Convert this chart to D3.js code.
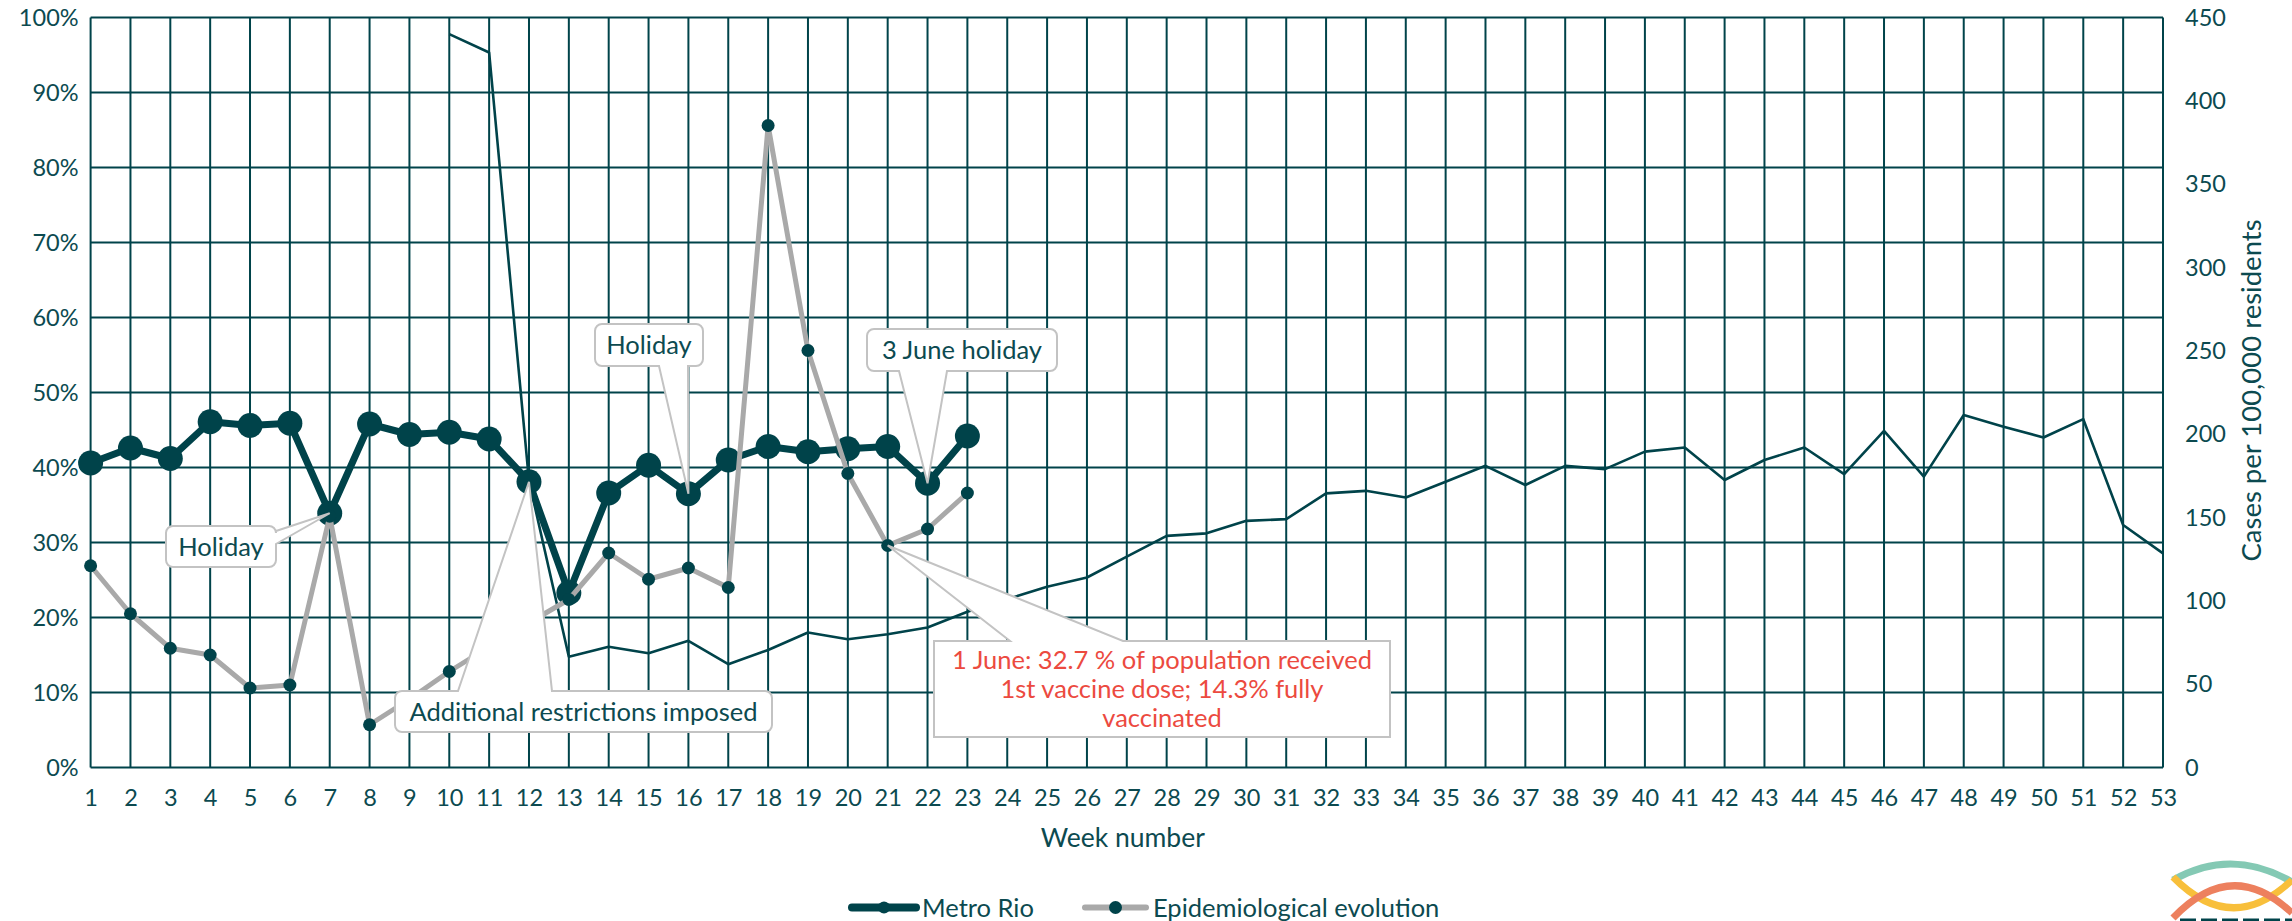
<!DOCTYPE html>
<html>
<head>
<meta charset="utf-8">
<script src="https://cdn.jsdelivr.net/npm/d3@7"></script>
<style>
  html, body { margin: 0; padding: 0; background: #ffffff; }
  svg { display: block; }
  text { font-family: "Lato", "DejaVu Sans", sans-serif; }
</style>
</head>
<body>
<svg id="chart" width="2292" height="921"></svg>
<script>
// ---------------- DATA ----------------
const weeks = d3.range(1, 54);                       // week numbers 1..53
const leftTicks = [0, 0.1, 0.2, 0.3, 0.4, 0.5, 0.6, 0.7, 0.8, 0.9, 1.0];
const rightTicks = [0, 50, 100, 150, 200, 250, 300, 350, 400, 450];

// Metro Rio (% , left axis), weeks 1..23
const metroRio = [40.6, 42.6, 41.2, 46.1, 45.6, 45.9, 33.9, 45.8, 44.4, 44.7, 43.8, 38.1,
                  23.3, 36.6, 40.3, 36.5, 41.0, 42.8, 42.1, 42.5, 42.8, 37.9, 44.2];
// Epidemiological evolution (% , left axis), weeks 1..23
const epiEvolution = [26.9, 20.5, 15.9, 15.0, 10.6, 11.0, 33.5, 5.7, 9.1, 12.8, 16.1, 19.3,
                      22.4, 28.6, 25.1, 26.6, 24.0, 85.6, 55.6, 39.2, 29.6, 31.8, 36.6];
// Cases per 100,000 residents (right axis), weeks 10..53
const casesStartWeek = 10;
const casesPer100k = [440, 429, 172, 66.5, 72.5, 68.5, 76, 62, 70.5, 81, 77, 80, 84, 93.5,
                      101, 108.5, 114, 126.5, 139, 140.5, 148, 149, 164.5, 166, 162, 171.5,
                      181, 169.5, 181, 179, 189.5, 192, 172.5, 184.5, 192, 176, 202, 174.5,
                      211.5, 204.5, 198, 209, 145.5, 128.5];

const seriesNames = ["Metro Rio", "Epidemiological evolution"];
const vaccineNote = ["1 June: 32.7 % of population received", "1st vaccine dose; 14.3% fully", "vaccinated"];

// ---------------- STYLE / LAYOUT ----------------
const C_DARK = "#00434a";
const C_TEXT = "#0c4a50";
const C_GRAY = "#a9a9a9";
const C_BORDER = "#c3c3c3";
const C_RED = "#ec4a3f";

const svg = d3.select("#chart");
const x = d3.scaleLinear().domain([1, 53]).range([90.6, 2163]);
const yL = d3.scaleLinear().domain([0, 1]).range([767.5, 17.5]);
const yR = d3.scaleLinear().domain([0, 450]).range([767.5, 17.5]);

const metroPts = metroRio.map((v, i) => ({ w: i + 1, v: v / 100 }));
const epiPts = epiEvolution.map((v, i) => ({ w: i + 1, v: v / 100 }));
const casesPts = casesPer100k.map((v, i) => ({ w: casesStartWeek + i, v }));

// ---------------- GRID ----------------
const grid = svg.append("g").attr("class", "grid");
grid.selectAll("line.h").data(leftTicks).join("line")
  .attr("x1", x(1)).attr("x2", x(53))
  .attr("y1", d => yL(d)).attr("y2", d => yL(d))
  .attr("stroke", C_DARK).attr("stroke-width", 2);
grid.selectAll("line.v").data(weeks).join("line")
  .attr("x1", d => x(d)).attr("x2", d => x(d))
  .attr("y1", yL(0)).attr("y2", yL(1))
  .attr("stroke", C_DARK).attr("stroke-width", 2);

// ---------------- AXES ----------------
const fs = 23.5;
const axL = svg.append("g").attr("transform", `translate(${x(1)},0)`)
  .call(d3.axisLeft(yL).tickValues(leftTicks).tickFormat(d3.format(".0%")).tickSize(0).tickPadding(12));
const axR = svg.append("g").attr("transform", `translate(${x(53)},0)`)
  .call(d3.axisRight(yR).tickValues(rightTicks).tickSize(0).tickPadding(22));
const axB = svg.append("g").attr("transform", `translate(0,${yL(0)})`)
  .call(d3.axisBottom(x).tickValues(weeks).tickFormat(d3.format("d")).tickSize(0).tickPadding(22));
[axL, axR, axB].forEach(a => {
  a.select(".domain").remove();
  a.selectAll("text").attr("fill", C_TEXT).style("font-size", fs + "px").style("font-family", "Lato");
});

svg.append("text").text("Week number")
  .attr("x", (x(1) + x(53)) / 2 - 4).attr("y", 847)
  .attr("text-anchor", "middle").attr("fill", C_TEXT).style("font-size", "26.5px");
svg.append("text").text("Cases per 100,000 residents")
  .attr("transform", `translate(2261,${(yR(0) + yR(450)) / 2 - 2}) rotate(-90)`)
  .attr("text-anchor", "middle").attr("fill", C_TEXT).style("font-size", "27.5px");

// ---------------- SERIES ----------------
const lineCases = d3.line().x(d => x(d.w)).y(d => yR(d.v));
svg.append("path").datum(casesPts).attr("d", lineCases)
  .attr("fill", "none").attr("stroke", C_DARK).attr("stroke-width", 2.6).attr("stroke-linejoin", "round");

const lineL = d3.line().x(d => x(d.w)).y(d => yL(d.v));
svg.append("path").datum(metroPts).attr("d", lineL)
  .attr("fill", "none").attr("stroke", C_DARK).attr("stroke-width", 7).attr("stroke-linejoin", "round");
svg.append("g").selectAll("circle").data(metroPts).join("circle")
  .attr("cx", d => x(d.w)).attr("cy", d => yL(d.v)).attr("r", 12.5).attr("fill", C_DARK);

svg.append("path").datum(epiPts).attr("d", lineL)
  .attr("fill", "none").attr("stroke", C_GRAY).attr("stroke-width", 5).attr("stroke-linejoin", "round");
svg.append("g").selectAll("circle").data(epiPts).join("circle")
  .attr("cx", d => x(d.w)).attr("cy", d => yL(d.v)).attr("r", 6.5).attr("fill", C_DARK);

// ---------------- CALLOUTS ----------------
function calloutPath(b, r, side, base, tip) {
  const [x0, y0, x1, y1] = b;
  const p = d3.path();
  p.moveTo(x0 + r, y0);
  if (side === "top") { p.lineTo(base[0], y0); p.lineTo(tip[0], tip[1]); p.lineTo(base[1], y0); }
  p.lineTo(x1 - r, y0);
  if (r) p.arcTo(x1, y0, x1, y0 + r, r);
  if (side === "right") { p.lineTo(x1, base[0]); p.lineTo(tip[0], tip[1]); p.lineTo(x1, base[1]); }
  p.lineTo(x1, y1 - r);
  if (r) p.arcTo(x1, y1, x1 - r, y1, r);
  if (side === "bottom") { p.lineTo(base[1], y1); p.lineTo(tip[0], tip[1]); p.lineTo(base[0], y1); }
  p.lineTo(x0 + r, y1);
  if (r) p.arcTo(x0, y1, x0, y1 - r, r);
  p.lineTo(x0, y0 + r);
  if (r) p.arcTo(x0, y0, x0 + r, y0, r);
  p.closePath();
  return p.toString();
}
const tipOf = (pts, w) => { const d = pts.find(q => q.w === w); return [x(d.w), yL(d.v)]; };

const callouts = [
  { lines: ["Holiday"], box: [166, 526, 276, 567], r: 7, side: "right", base: [531, 544], tip: tipOf(metroPts, 7), color: C_TEXT },
  { lines: ["Holiday"], box: [595, 324, 703, 366], r: 7, side: "bottom", base: [659, 688], tip: tipOf(metroPts, 16), color: C_TEXT },
  { lines: ["3 June holiday"], box: [867, 329, 1057, 371], r: 7, side: "bottom", base: [899, 947], tip: tipOf(metroPts, 22), color: C_TEXT },
  { lines: ["Additional restrictions imposed"], box: [395, 691, 772, 732], r: 7, side: "top", base: [458, 552], tip: tipOf(metroPts, 12), color: C_TEXT },
  { lines: vaccineNote, box: [934, 641, 1390, 737], r: 0, side: "top", base: [1010, 1123], tip: tipOf(epiPts, 21), color: C_RED }
];
const cg = svg.append("g");
callouts.forEach(c => {
  cg.append("path").attr("d", calloutPath(c.box, c.r, c.side, c.base, c.tip))
    .attr("fill", "#ffffff").attr("stroke", C_BORDER).attr("stroke-width", 2);
  const cx = (c.box[0] + c.box[2]) / 2, cy = (c.box[1] + c.box[3]) / 2;
  const lh = 29, n = c.lines.length;
  c.lines.forEach((t, i) => {
    cg.append("text").text(t)
      .attr("x", cx).attr("y", cy + (i - (n - 1) / 2) * lh + 9)
      .attr("text-anchor", "middle").attr("fill", c.color).style("font-size", "25.5px");
  });
});

// ---------------- LEGEND ----------------
const lg = svg.append("g");
const ly = 907.5;
lg.append("line").attr("x1", 852).attr("x2", 916).attr("y1", ly).attr("y2", ly)
  .attr("stroke", C_DARK).attr("stroke-width", 8).attr("stroke-linecap", "round");
lg.append("circle").attr("cx", 884).attr("cy", ly).attr("r", 6).attr("fill", C_DARK);
lg.append("text").text(seriesNames[0]).attr("x", 922).attr("y", ly + 9)
  .attr("fill", C_TEXT).style("font-size", "25.5px");
lg.append("line").attr("x1", 1085).attr("x2", 1146).attr("y1", ly).attr("y2", ly)
  .attr("stroke", C_GRAY).attr("stroke-width", 6).attr("stroke-linecap", "round");
lg.append("circle").attr("cx", 1115.5).attr("cy", ly).attr("r", 6.5).attr("fill", C_DARK);
lg.append("text").text(seriesNames[1]).attr("x", 1153).attr("y", ly + 9)
  .attr("fill", C_TEXT).style("font-size", "25.5px");

// ---------------- LOGO (decorative) ----------------
const logo = svg.append("g").attr("fill", "none").attr("stroke-width", 7).attr("opacity", 0.85);
logo.append("path").attr("d", "M2173,880 Q2232,847 2292,882").attr("stroke", "#6fc0a7");
logo.append("path").attr("d", "M2173,877 Q2232,937 2292,880").attr("stroke", "#f7b519");
logo.append("path").attr("d", "M2173,918 Q2232,856 2292,913").attr("stroke", "#ea6a43");
svg.append("line").attr("x1", 2180).attr("x2", 2292).attr("y1", 920).attr("y2", 920)
  .attr("stroke", C_DARK).attr("stroke-width", 3).attr("stroke-dasharray", "16 5");
</script>
</body>
</html>
